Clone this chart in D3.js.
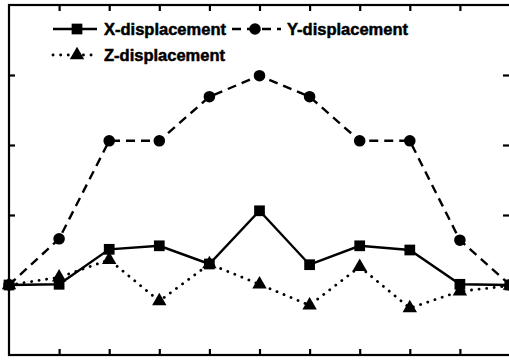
<!DOCTYPE html>
<html>
<head>
<meta charset="utf-8">
<script src="https://cdn.jsdelivr.net/npm/d3@7"></script>
<style>
  html, body { margin: 0; padding: 0; background: #fff; }
  svg { display: block; }
  text { font-family: "Liberation Sans", Arial, sans-serif; font-weight: bold; }
</style>
</head>
<body>
<svg id="chart" width="509" height="360"></svg>
<script>
// Measurement positions (11 stations) and displacement series
const positions = [0, 1, 2, 3, 4, 5, 6, 7, 8, 9, 10];
const xDisp = [0, 0.01, 0.51, 0.56, 0.30, 1.06, 0.29, 0.56, 0.50, 0.01, 0.0];
const yDisp = [0, 0.66, 2.06, 2.06, 2.69, 2.99, 2.69, 2.06, 2.06, 0.64, 0];
const zDisp = [0, 0.11, 0.36, -0.23, 0.30, 0.01, -0.29, 0.26, -0.33, -0.09, -0.01];
const yTicks = [0, 1, 2, 3];
const seriesNames = ["X-displacement", "Y-displacement", "Z-displacement"];

const svg = d3.select("#chart");
const plotLeft = 9, plotRight = 510, plotTop = 5, plotBottom = 355;

const x = d3.scaleLinear().domain([0, 10]).range([plotLeft, plotRight]);
const y = d3.scaleLinear().domain([-1, 4]).range([plotBottom, plotTop]);

const tickLen = 6;
const frame = svg.append("g").attr("stroke", "#000").attr("stroke-width", 2.2);

// inward ticks on all four sides
frame.append("g").attr("transform", `translate(0,${plotBottom})`)
  .call(d3.axisTop(x).tickValues(d3.range(1, 10)).tickSize(tickLen).tickFormat(""))
  .call(g => g.select(".domain").remove());
frame.append("g").attr("transform", `translate(0,${plotTop})`)
  .call(d3.axisBottom(x).tickValues(d3.range(1, 10)).tickSize(tickLen).tickFormat(""))
  .call(g => g.select(".domain").remove());
frame.append("g").attr("transform", `translate(${plotLeft},0)`)
  .call(d3.axisRight(y).tickValues(yTicks).tickSize(tickLen).tickFormat(""))
  .call(g => g.select(".domain").remove());
frame.append("g").attr("transform", `translate(${plotRight - 1},0)`)
  .call(d3.axisLeft(y).tickValues(yTicks).tickSize(tickLen).tickFormat(""))
  .call(g => g.select(".domain").remove());
svg.selectAll(".tick line").attr("stroke", "#000").attr("stroke-width", 2.2);

frame.append("rect")
  .attr("x", plotLeft).attr("y", plotTop)
  .attr("width", plotRight - plotLeft + 1).attr("height", plotBottom - plotTop)
  .attr("fill", "none");

const styles = [
  { data: xDisp, dash: null, cap: "butt", width: 2.4, symbol: d3.symbolSquare, size: 115 },
  { data: yDisp, dash: "9,6", cap: "butt", width: 2.4, symbol: d3.symbolCircle, size: 105 },
  { data: zDisp, dash: "0.1,7.5", cap: "round", width: 2.8, symbol: d3.symbolTriangle, size: 90 }
];

const line = d3.line().x((d, i) => x(positions[i])).y(d => y(d));

styles.forEach(s => {
  svg.append("path")
    .attr("d", line(s.data))
    .attr("fill", "none")
    .attr("stroke", "#000")
    .attr("stroke-width", s.width)
    .attr("stroke-linecap", s.cap)
    .attr("stroke-dasharray", s.dash);
  svg.append("g").selectAll("path")
    .data(s.data)
    .join("path")
    .attr("transform", (d, i) => `translate(${x(positions[i])},${y(d)})`)
    .attr("d", d3.symbol(s.symbol, s.size))
    .attr("fill", "#000");
});

// legend
const legendItems = [
  { s: styles[0], x0: 53, x1: 97, mx: 77, ly: 29, tx: 104, name: seriesNames[0] },
  { s: styles[1], x0: 232, x1: 281, mx: 255, ly: 29, tx: 287, name: seriesNames[1] },
  { s: styles[2], x0: 53, x1: 97, mx: 77, ly: 55, tx: 104, name: seriesNames[2] }
];
legendItems.forEach(it => {
  svg.append("line")
    .attr("x1", it.x0).attr("x2", it.x1).attr("y1", it.ly).attr("y2", it.ly)
    .attr("stroke", "#000")
    .attr("stroke-width", it.s.width)
    .attr("stroke-linecap", it.s.cap)
    .attr("stroke-dasharray", it.s.dash);
  svg.append("path")
    .attr("transform", `translate(${it.mx},${it.ly})`)
    .attr("d", d3.symbol(it.s.symbol, it.s.size))
    .attr("fill", "#000");
  svg.append("text")
    .attr("x", it.tx).attr("y", it.ly + 6)
    .attr("font-size", 16.5)
    .attr("stroke", "#000")
    .attr("stroke-width", 0.5)
    .text(it.name);
});
</script>
</body>
</html>
